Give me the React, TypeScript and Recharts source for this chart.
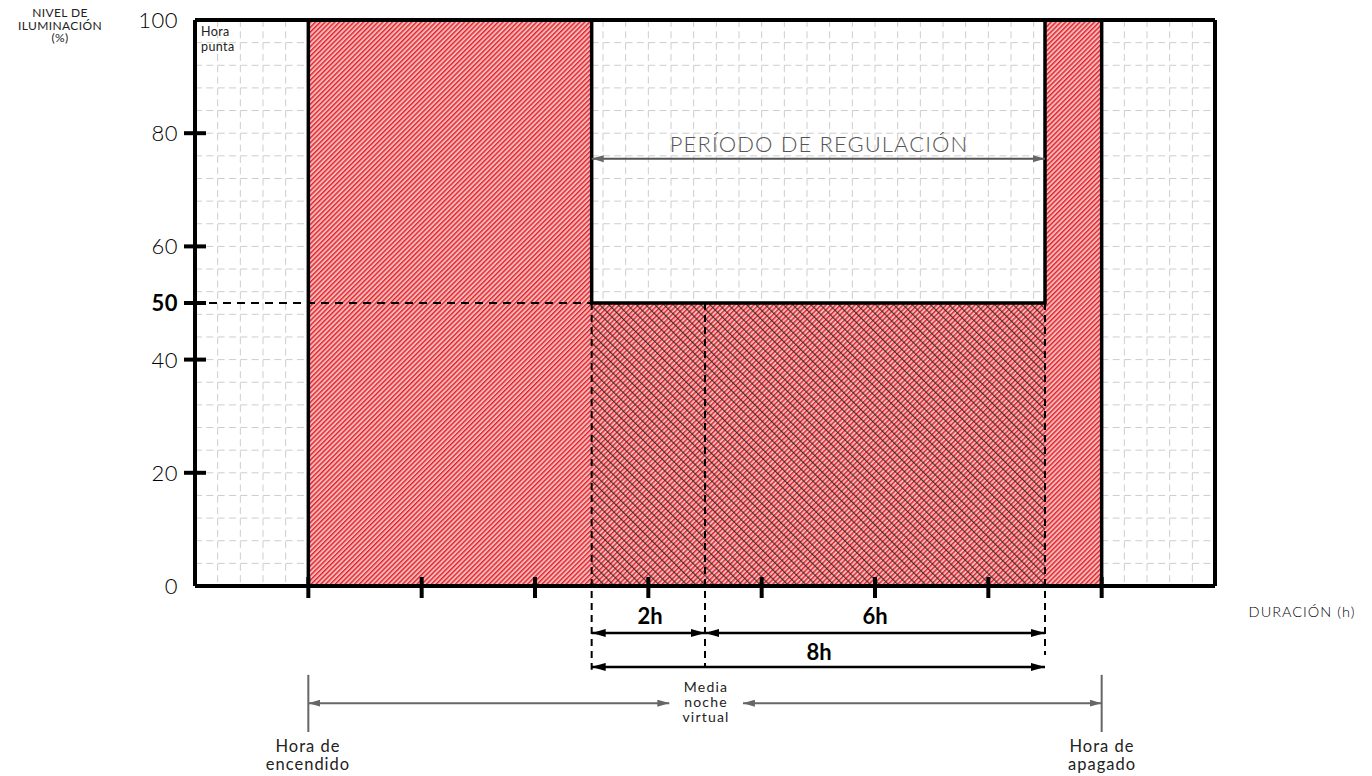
import React from "react"
import {
  ComposedChart,
  Area,
  Line,
  XAxis,
  YAxis,
  CartesianGrid,
  ReferenceLine,
} from "recharts"

// illumination profile (hours from start of the night, % light level)
const HOURS = [2, 2, 7, 7, 15, 15, 16, 16]
const LEVEL = [0, 100, 100, 50, 50, 100, 100, 0]
// regulated stretch, drawn with the extra cross hatch
const REDUCED_HOURS = [7, 15]
const REDUCED_LEVEL = [50, 50]

const Y_TICKS = [0, 20, 40, 50, 60, 80, 100]
const X_TICKS = [2, 4, 6, 8, 10, 12, 14, 16]
const X_DOMAIN = [0, 18]
const Y_DOMAIN = [0, 100]

// fine grid every 0.4 h / 4 %
const GRID_X = Array.from({ length: 44 }, (_, i) => +((i + 1) * 0.4).toFixed(1))
const GRID_Y = Array.from({ length: 24 }, (_, i) => (i + 1) * 4)

const SWITCH_ON = 2
const REG_START = 7
const VIRTUAL_MIDNIGHT = 9
const REG_END = 15
const SWITCH_OFF = 16

const profile = HOURS.map((h, i) => ({ h, level: LEVEL[i] }))
const reduced = REDUCED_HOURS.map((h, i) => ({ h, level: REDUCED_LEVEL[i] }))

const FONT = "Lato, 'Noto Sans', sans-serif"

function YTick(props: any) {
  const { x, y, payload } = props
  const v = payload.value
  const mark = v !== 0 && v !== 100
  return (
    <g>
      {mark && <line x1={x - 11} x2={x + 11} y1={y} y2={y} stroke="#000" strokeWidth={4} />}
      <text
        x={x - 17}
        y={y}
        dy="0.36em"
        textAnchor="end"
        fontSize={22}
        fontWeight={v === 50 ? 700 : 300}
        fill="#000"
        fontFamily={FONT}
        letterSpacing={0.5}
      >
        {v}
      </text>
    </g>
  )
}

function XTick(props: any) {
  const { x, y } = props
  return <line x1={x} x2={x} y1={y - 9} y2={y + 12} stroke="#000" strokeWidth={4} />
}

const arrowShape = (marker: string, stroke: string, width: number) => (p: any) => (
  <line
    x1={p.x1}
    y1={p.y1}
    x2={p.x2}
    y2={p.y2}
    stroke={stroke}
    strokeWidth={width}
    markerStart={`url(#${marker})`}
    markerEnd={`url(#${marker})`}
  />
)

export default function App() {
  return (
    <div style={{ position: "absolute", left: 0, top: 0, width: 1372, height: 776, background: "#fff" }}>
      <ComposedChart
        width={1372}
        height={776}
        data={profile}
        margin={{ top: 20, right: 157, bottom: 160, left: 135 }}
      >
        <defs>
          <pattern id="redHatch" patternUnits="userSpaceOnUse" width={3.4} height={3.4} patternTransform="rotate(45)">
            <rect width={3.4} height={3.4} fill="#f4b0b0" fillOpacity={0.88} />
            <rect width={1.4} height={3.4} fill="#e3222a" />
          </pattern>
          <pattern id="blackHatch" patternUnits="userSpaceOnUse" width={6.5} height={6.5} patternTransform="rotate(-45)">
            <rect width={1.2} height={6.5} fill="#222" fillOpacity={0.8} />
          </pattern>
          <marker id="ahBlack" viewBox="0 0 14 8" refX={14} refY={4} markerWidth={14} markerHeight={8} markerUnits="userSpaceOnUse" orient="auto-start-reverse">
            <path d="M0,0 L14,4 L0,8 z" fill="#000" />
          </marker>
          <marker id="ahGray" viewBox="0 0 12 7" refX={12} refY={3.5} markerWidth={12} markerHeight={7} markerUnits="userSpaceOnUse" orient="auto-start-reverse">
            <path d="M0,0 L12,3.5 L0,7 z" fill="#666" />
          </marker>
        </defs>

        <CartesianGrid
          verticalValues={GRID_X}
          horizontalValues={GRID_Y}
          stroke="#cdcdcd"
          strokeDasharray="7 4.33"
          strokeWidth={1}
        />
        <XAxis
          type="number"
          dataKey="h"
          domain={X_DOMAIN}
          ticks={X_TICKS}
          interval={0}
          tickSize={0}
          tickMargin={0}
          axisLine={false}
          tick={<XTick />}
          height={30}
          allowDataOverflow
        />
        <YAxis
          type="number"
          domain={Y_DOMAIN}
          ticks={Y_TICKS}
          interval={0}
          tickSize={0}
          tickMargin={0}
          axisLine={false}
          tick={<YTick />}
          width={60}
          allowDataOverflow
        />

        <Area
          data={profile}
          dataKey="level"
          type="linear"
          stroke="none"
          fill="url(#redHatch)"
          fillOpacity={1}
          isAnimationActive={false}
        />
        <Area
          data={reduced}
          dataKey="level"
          type="linear"
          stroke="none"
          fill="url(#blackHatch)"
          fillOpacity={1}
          isAnimationActive={false}
        />

        {/* dashed guides */}
        <ReferenceLine segment={[{ x: 0, y: 50 }, { x: REG_START, y: 50 }]} stroke="#000" strokeWidth={2} strokeDasharray="8 6" />
        <ReferenceLine segment={[{ x: REG_START, y: 50 }, { x: REG_START, y: -14.8 }]} stroke="#000" strokeWidth={2} strokeDasharray="7 5" ifOverflow="visible" />
        <ReferenceLine segment={[{ x: VIRTUAL_MIDNIGHT, y: 50 }, { x: VIRTUAL_MIDNIGHT, y: -14.5 }]} stroke="#000" strokeWidth={2} strokeDasharray="7 5" ifOverflow="visible" />
        <ReferenceLine segment={[{ x: REG_END, y: 50 }, { x: REG_END, y: -12.2 }]} stroke="#000" strokeWidth={2} strokeDasharray="7 5" ifOverflow="visible" />

        {/* plot frame */}
        <ReferenceLine segment={[{ x: 0, y: 0 }, { x: 18, y: 0 }]} stroke="#000" strokeWidth={4} ifOverflow="visible" />
        <ReferenceLine segment={[{ x: 0, y: 100 }, { x: 18, y: 100 }]} stroke="#000" strokeWidth={4} ifOverflow="visible" />
        <ReferenceLine segment={[{ x: 0, y: 0 }, { x: 0, y: 100 }]} stroke="#000" strokeWidth={4} ifOverflow="visible" />
        <ReferenceLine segment={[{ x: 18, y: 0 }, { x: 18, y: 100 }]} stroke="#000" strokeWidth={4} ifOverflow="visible" />

        <Line
          data={profile}
          dataKey="level"
          type="linear"
          stroke="#000"
          strokeWidth={3.5}
          dot={false}
          activeDot={false}
          isAnimationActive={false}
        />

        {/* regulation period arrow */}
        <ReferenceLine
          segment={[{ x: REG_START, y: 75.5 }, { x: REG_END, y: 75.5 }]}
          ifOverflow="visible"
          shape={arrowShape("ahGray", "#555", 2)}
        />
        {/* duration arrows */}
        <ReferenceLine
          segment={[{ x: REG_START, y: -8.3 }, { x: VIRTUAL_MIDNIGHT, y: -8.3 }]}
          ifOverflow="visible"
          shape={arrowShape("ahBlack", "#000", 2.5)}
        />
        <ReferenceLine
          segment={[{ x: VIRTUAL_MIDNIGHT, y: -8.3 }, { x: REG_END, y: -8.3 }]}
          ifOverflow="visible"
          shape={arrowShape("ahBlack", "#000", 2.5)}
        />
        <ReferenceLine
          segment={[{ x: REG_START, y: -14.3 }, { x: REG_END, y: -14.3 }]}
          ifOverflow="visible"
          shape={arrowShape("ahBlack", "#000", 2.5)}
        />
        {/* switch on / off markers */}
        <ReferenceLine segment={[{ x: SWITCH_ON, y: -15.7 }, { x: SWITCH_ON, y: -25.8 }]} stroke="#666" strokeWidth={2} ifOverflow="visible" />
        <ReferenceLine segment={[{ x: SWITCH_OFF, y: -15.7 }, { x: SWITCH_OFF, y: -25.8 }]} stroke="#666" strokeWidth={2} ifOverflow="visible" />
        <ReferenceLine
          segment={[{ x: SWITCH_ON, y: -20.7 }, { x: 8.37, y: -20.7 }]}
          ifOverflow="visible"
          shape={arrowShape("ahGray", "#666", 2)}
        />
        <ReferenceLine
          segment={[{ x: 9.67, y: -20.7 }, { x: SWITCH_OFF, y: -20.7 }]}
          ifOverflow="visible"
          shape={arrowShape("ahGray", "#666", 2)}
        />

        {/* texts */}
        <g fontFamily={FONT} fill="#000" fontWeight={300}>
          <text x={60} textAnchor="middle" fontSize={12} letterSpacing={0.4} fill="#222" fontWeight={400}>
            <tspan x={60} y={17}>NIVEL DE</tspan>
            <tspan x={60} y={29.5}>ILUMINACIÓN</tspan>
            <tspan x={60} y={42}>(%)</tspan>
          </text>
          <text fontSize={12.5} letterSpacing={0.4} fill="#222" fontWeight={400}>
            <tspan x={201} y={36}>Hora</tspan>
            <tspan x={201} y={51}>punta</tspan>
          </text>
          <text x={819} y={152} textAnchor="middle" fontSize={22} fill="#555" letterSpacing={1.1}>PERÍODO DE REGULACIÓN</text>
          <text x={650} y={624} textAnchor="middle" fontSize={22} fontWeight={700}>2h</text>
          <text x={875} y={624} textAnchor="middle" fontSize={22} fontWeight={700}>6h</text>
          <text x={819} y={660} textAnchor="middle" fontSize={22} fontWeight={700}>8h</text>
          <text textAnchor="middle" fontSize={14} letterSpacing={1.2} fill="#222" fontWeight={400}>
            <tspan x={706} y={692}>Media</tspan>
            <tspan x={706} y={707}>noche</tspan>
            <tspan x={706} y={722}>virtual</tspan>
          </text>
          <text textAnchor="middle" fontSize={16.5} letterSpacing={1} fill="#222" fontWeight={400}>
            <tspan x={308} y={752}>Hora de</tspan>
            <tspan x={308} y={770}>encendido</tspan>
          </text>
          <text textAnchor="middle" fontSize={16.5} letterSpacing={1} fill="#222" fontWeight={400}>
            <tspan x={1102} y={752}>Hora de</tspan>
            <tspan x={1102} y={770}>apagado</tspan>
          </text>
          <text x={1302} y={617} textAnchor="middle" fontSize={14.5} letterSpacing={1}>DURACIÓN (h)</text>
        </g>
      </ComposedChart>
    </div>
  )
}
